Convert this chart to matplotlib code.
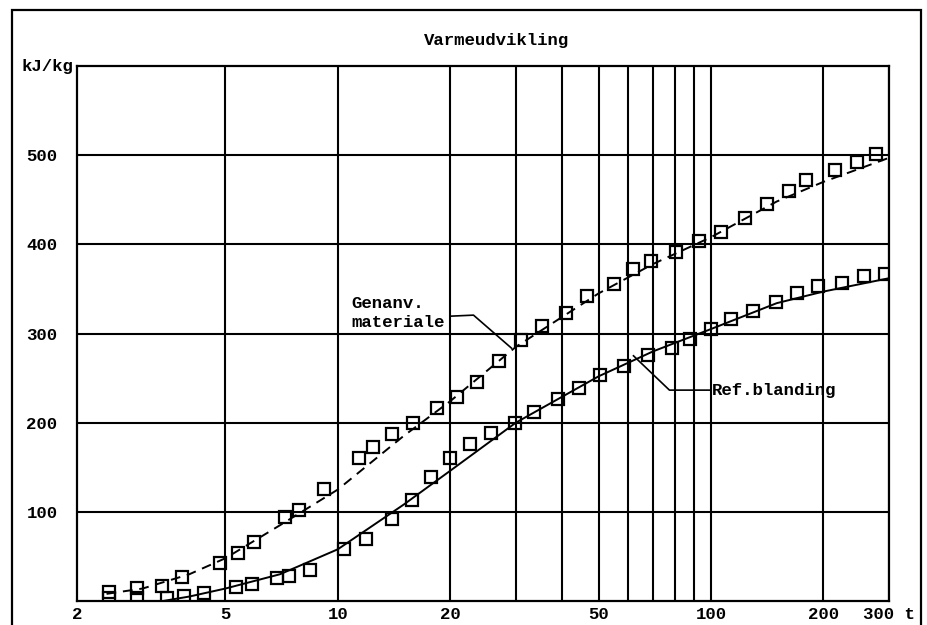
import matplotlib
matplotlib.use("Agg")
import matplotlib.pyplot as plt
from matplotlib.patches import Rectangle
from matplotlib.ticker import FixedLocator, NullLocator

# %% data
# Genanv. materiale - measured points
gen_t = [2.44, 2.89, 3.38, 3.82, 4.82, 5.39, 5.98, 7.2, 7.85, 9.2, 11.4, 12.4, 14.0,
         15.9, 18.4, 20.8, 23.6, 27, 31, 35.2, 40.8, 46.5, 54.9, 62, 68.9, 80.4,
         92.7, 106.7, 123, 141.6, 162, 180, 215, 247, 277]
gen_q = [10, 14.6, 17, 27, 43, 54, 66, 94, 102, 126, 160, 173, 187,
         200, 216, 229, 246, 269, 293, 308, 323, 342, 355, 372, 381, 391,
         404, 414, 429, 445, 460, 472, 483, 492, 501]
# Genanv. materiale - fitted curve (dashed)
gen_fit_t = [2.4, 3, 4, 5, 7, 10, 15, 20, 30, 50, 70, 100, 150, 200, 300]
gen_fit_q = [8, 14, 30, 48, 85, 125, 185, 224, 285, 345, 378, 408, 448, 470, 497]

# Ref.blanding - measured points
ref_t = [2.44, 2.89, 3.48, 3.86, 4.37, 5.33, 5.88, 6.85, 7.38, 8.4, 10.4, 11.9, 14.0,
         15.8, 17.8, 20, 22.6, 25.7, 29.9, 33.6, 38.8, 44.2, 50.5, 58.4, 67.8, 78.6,
         87.8, 100, 113, 130, 149, 170, 194, 224, 257, 293]
ref_q = [3, 3, 3, 6, 9, 16, 19, 26, 28, 35, 58, 70, 92,
         113, 139, 160, 176, 188, 200, 212, 226, 239, 254, 264, 276, 284,
         294, 305, 316, 325, 335, 345, 353, 357, 364, 367]
# Ref.blanding - fitted curve (solid)
ref_fit_t = [3.4, 4, 5, 7, 10, 15, 20, 30, 50, 70, 100, 150, 200, 300]
ref_fit_q = [0, 5, 14, 30, 58, 108, 146, 200, 252, 280, 305, 334, 347, 362]

x_grid = [5, 10, 20, 30, 40, 50, 60, 70, 80, 90, 100, 200, 300]
x_ticks = [2, 5, 10, 20, 50, 100, 200, 300]
x_ticklabels = ["2", "5", "10", "20", "50", "100", "200", "300 t"]
y_ticks = [100, 200, 300, 400, 500]

# %% style
FONT = "Liberation Mono"
plt.rcParams["font.family"] = [FONT, "DejaVu Sans Mono"]
plt.rcParams["font.weight"] = "bold"
FS = 12.5

fig = plt.figure(figsize=(9.28, 6.25), dpi=100)
ax = fig.add_axes([77 / 928, 24 / 625, 812 / 928, 535 / 625])

ax.set_xscale("log")
ax.set_xlim(2, 300)
ax.set_ylim(0, 600)

# grid
for xv in x_grid:
    ax.axvline(xv, color="black", lw=1.5, zorder=1)
for yv in y_ticks:
    ax.axhline(yv, color="black", lw=1.5, zorder=1)

# curves
ax.plot(gen_fit_t, gen_fit_q, color="black", lw=1.4, ls=(0, (5, 3.5)), zorder=2)
ax.plot(ref_fit_t, ref_fit_q, color="black", lw=1.4, zorder=2)
ax.plot(gen_t, gen_q, ls="none", marker="s", ms=9, mfc="none", mec="black", mew=1.6, zorder=3)
ax.plot(ref_t, ref_q, ls="none", marker="s", ms=9, mfc="none", mec="black", mew=1.6, zorder=3)

# ticks
ax.xaxis.set_major_locator(FixedLocator(x_ticks))
ax.xaxis.set_minor_locator(NullLocator())
ax.set_xticklabels(x_ticklabels)
ax.set_yticks(y_ticks)
ax.tick_params(axis="both", length=0, labelsize=FS)
ax.tick_params(axis="y", pad=14)
ax.tick_params(axis="x", pad=4)
for lab in ax.get_xticklabels() + ax.get_yticklabels():
    lab.set_fontweight("bold")
for sp in ax.spines.values():
    sp.set_linewidth(1.6)

# annotations
ax.text(10.9, 334, "Genanv.", fontsize=FS, va="center", ha="left", zorder=4)
ax.text(10.9, 312, "materiale", fontsize=FS, va="center", ha="left", zorder=4)
ax.plot([20.2, 23.1, 29.2], [319.5, 320.6, 283.6], color="black", lw=1.2, zorder=4)

ax.plot([62, 77.4, 100], [275, 236.5, 236.5], color="black", lw=1.2, zorder=4)
ax.text(100.5, 236.5, "Ref.blanding", fontsize=FS, va="center", ha="left", zorder=4)

ax.text(-0.005, 1.0, "kJ/kg", transform=ax.transAxes, fontsize=FS,
        ha="right", va="center")
fig.text(497 / 928, 1 - 40 / 625, "Varmeudvikling", fontsize=FS,
         ha="center", va="center")

# outer frame
fig.patches.append(Rectangle((12 / 928, -0.05), (921 - 12) / 928, 1.05 - 10 / 625,
                             transform=fig.transFigure, fill=False,
                             edgecolor="black", lw=1.6))

fig.savefig("out.png", dpi=100)
